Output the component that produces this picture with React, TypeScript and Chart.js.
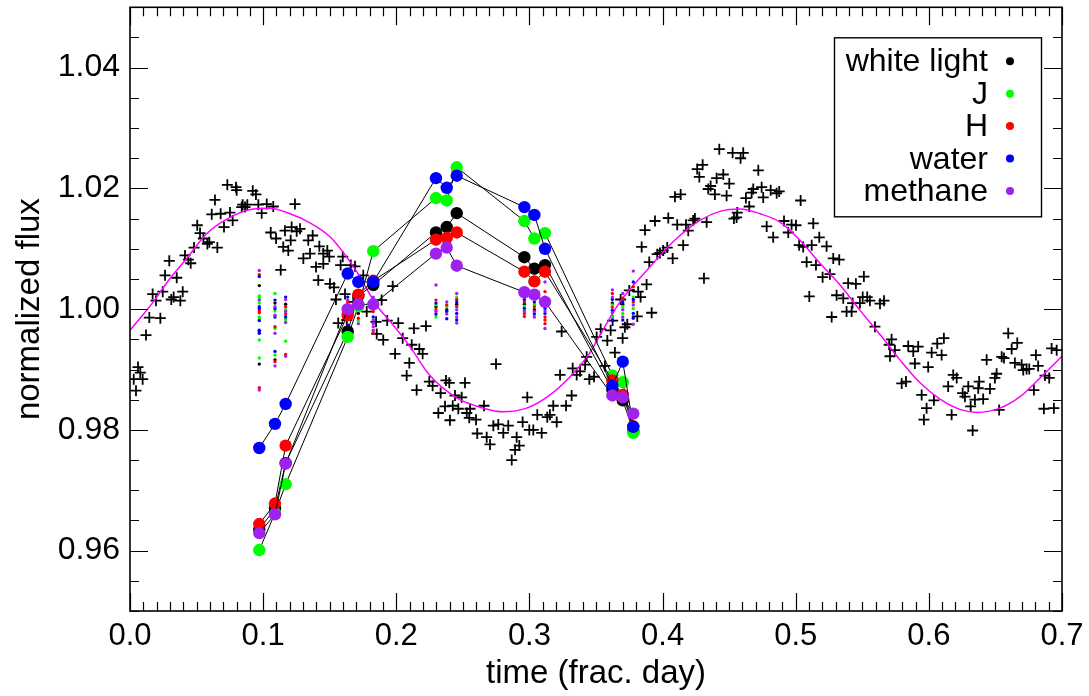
import React, { useEffect, useRef } from "react";
import { Chart, registerables } from "chart.js";

Chart.register(...registerables);

const FONT = "'Liberation Sans', Arial, Helvetica, sans-serif";

// ---------- axes ----------
const xRange = [0, 0.7];
const yRange = [0.95, 1.05];
const xTicks = [0, 0.1, 0.2, 0.3, 0.4, 0.5, 0.6, 0.7];
const xTickLabels = ["0.0", "0.1", "0.2", "0.3", "0.4", "0.5", "0.6", "0.7"];
const yTicks = [0.96, 0.98, 1.0, 1.02, 1.04];
const yTickLabels = ["0.96", "0.98", "1.00", "1.02", "1.04"];
const xMinorStep = 0.01;
const yMinorStep = 0.005;
const xTitle = "time (frac. day)";
const yTitle = "normalized flux";

// ---------- legend / bands ----------
const bandNames = ["white light", "J", "H", "water", "methane"];
const bandColors = ["#000000", "#00ff00", "#ff0000", "#0000ff", "#a020f0"];

// ---------- unbinned white-light photometry (crosses) ----------
const crossTime = [
  0.0028, 0.0045, 0.006, 0.0077, 0.0095, 0.012, 0.0145, 0.017, 0.0195, 0.0228, 0.0246, 0.031, 0.0328, 0.0378, 0.0396,
  0.0263, 0.0351, 0.0295, 0.0413, 0.0438, 0.0456, 0.0481, 0.0505, 0.0526, 0.0551, 0.0581, 0.0596, 0.0656, 0.0614, 0.0638,
  0.0681, 0.0706, 0.0731, 0.0751, 0.0771, 0.0796, 0.0801, 0.0839, 0.0846, 0.0864, 0.0881, 0.0922, 0.0946, 0.0964, 0.0989,
  0.1027, 0.1076, 0.1057, 0.1097, 0.1132, 0.1151, 0.1164, 0.1189, 0.1207, 0.1214, 0.1239, 0.1252, 0.1277, 0.1302, 0.1339,
  0.1352, 0.1372, 0.1397, 0.1414, 0.1422, 0.1452, 0.1482, 0.1497, 0.1452, 0.1598, 0.1582, 0.1658, 0.169, 0.1752, 0.1502,
  0.1532, 0.1547, 0.1615, 0.1677, 0.1564, 0.1628, 0.1778, 0.189, 0.1848, 0.1932, 0.2015, 0.1973, 0.2133, 0.2048, 0.2173,
  0.1853, 0.1902, 0.1991, 0.2098, 0.2078, 0.2153, 0.2223, 0.2116, 0.2198, 0.2248, 0.2273, 0.2333, 0.2373, 0.2398, 0.2516,
  0.2441, 0.2491, 0.2366, 0.2316, 0.2424, 0.2466, 0.2554, 0.2529, 0.2599, 0.2403, 0.2659, 0.2548, 0.2608, 0.2679, 0.2704,
  0.2729, 0.2766, 0.2804, 0.2841, 0.2904, 0.2924, 0.2892, 0.2867, 0.2749, 0.2984, 0.2949, 0.3059, 0.3029, 0.2999, 0.3092,
  0.3134, 0.3154, 0.3179, 0.3205, 0.3275, 0.3317, 0.323, 0.3242, 0.3325, 0.3355, 0.338, 0.3418, 0.345, 0.343, 0.3485,
  0.3505, 0.3535, 0.3567, 0.3585, 0.361, 0.3642, 0.37, 0.3625, 0.3685, 0.3735, 0.3717, 0.375, 0.381, 0.3835, 0.3817,
  0.3918, 0.388, 0.39, 0.3843, 0.398, 0.396, 0.4005, 0.4035, 0.4076, 0.4155, 0.4043, 0.3943, 0.3868, 0.411, 0.4176,
  0.4193, 0.423, 0.4243, 0.4331, 0.4311, 0.4093, 0.4136, 0.426, 0.4301, 0.4276, 0.4406, 0.4456, 0.4501, 0.4361, 0.4343,
  0.4393, 0.4481, 0.4626, 0.4681, 0.4744, 0.4756, 0.4812, 0.4857, 0.4719, 0.4586, 0.4526, 0.4606, 0.4556, 0.4536, 0.4651,
  0.4782, 0.4831, 0.4426, 0.4669, 0.4876, 0.4561, 0.5037, 0.5132, 0.4912, 0.4969, 0.5002, 0.4944, 0.5026, 0.5056, 0.512,
  0.5177, 0.5232, 0.5082, 0.5152, 0.5202, 0.5257, 0.5282, 0.5327, 0.5102, 0.527, 0.5307, 0.5357, 0.5394, 0.5452, 0.5512,
  0.5382, 0.542, 0.5427, 0.5482, 0.5503, 0.5537, 0.5557, 0.5633, 0.5663, 0.5595, 0.572, 0.5702, 0.5745, 0.5708, 0.5845,
  0.5883, 0.592, 0.5895, 0.5995, 0.6021, 0.6063, 0.6113, 0.6096, 0.5796, 0.5828, 0.5946, 0.5983, 0.5963, 0.6038, 0.6145,
  0.6183, 0.6209, 0.6171, 0.6254, 0.6271, 0.6296, 0.6329, 0.6314, 0.6346, 0.6378, 0.6371, 0.6408, 0.6434, 0.6459, 0.6496,
  0.6509, 0.6528, 0.6547, 0.6564, 0.6596, 0.6622, 0.6664, 0.6646, 0.6697, 0.6709, 0.6734, 0.6754, 0.6804, 0.6821, 0.6789,
  0.6872, 0.6904, 0.6922, 0.696, 0.6864, 0.6939,
];
const crossFlux = [
  0.9884, 0.9865, 0.9904, 0.9895, 0.9884, 0.9957, 0.9986, 1.0025, 1.0014, 0.9985, 1.0029, 1.0016, 1.002, 1.0014, 1.0029,
  1.0056, 1.0052, 1.008, 1.0089, 1.0082, 1.0076, 1.0102, 1.0139, 1.0126, 1.0117, 1.0108, 1.0111, 1.0102, 1.0157, 1.0181,
  1.0158, 1.0136, 1.0206, 1.016, 1.0147, 1.0202, 1.0197, 1.0169, 1.0173, 1.0169, 1.0173, 1.0196, 1.019, 1.0173, 1.0159,
  1.0174, 1.017, 1.0127, 1.0117, 1.0065, 1.0103, 1.013, 1.0097, 1.0114, 1.0136, 1.0174, 1.0129, 1.0133, 1.0084, 1.0114,
  1.0092, 1.0122, 1.007, 1.0048, 1.0104, 1.0092, 1.0097, 1.0087, 1.0075, 1.0087, 1.0073, 1.0073, 1.0071, 1.0056, 1.0042,
  1.0036, 1.0016, 1.0025, 1.0012, 0.9977, 0.9982, 0.9996, 1.0015, 0.9979, 0.9981, 0.9977, 1.0038, 0.9968, 0.9952, 0.9934,
  0.9959, 0.9949, 0.9926, 0.9911, 0.989, 0.9866, 0.9972, 0.9941, 0.9926, 0.988, 0.9873, 0.9861, 0.9882, 0.9878, 0.9878,
  0.9857, 0.9854, 0.9839, 0.9828, 0.984, 0.9835, 0.9835, 0.9828, 0.9817, 0.9816, 0.984, 0.982, 0.9794, 0.9788, 0.9776,
  0.9807, 0.9809, 0.9795, 0.9807, 0.9788, 0.9774, 0.9767, 0.975, 0.9909, 0.9854, 0.9813, 0.9825, 0.98, 0.98, 0.9795,
  0.9821, 0.9825, 0.984, 0.9813, 0.984, 0.9857, 0.9891, 0.9963, 0.9902, 0.9891, 0.9897, 0.9908, 0.9884, 0.9921, 0.9888,
  0.9954, 0.9967, 0.9906, 0.9948, 0.9965, 0.9928, 0.9952, 0.9981, 1.0016, 0.9975, 0.997, 1.0031, 0.9988, 1.002, 1.0029,
  0.9994, 1.0041, 1.0078, 1.0103, 1.0093, 1.0091, 1.0097, 1.0102, 1.0084, 1.0106, 1.0151, 1.0146, 1.0131, 1.014, 1.014,
  1.013, 1.0147, 1.015, 1.0144, 1.0051, 1.0186, 1.019, 1.0232, 1.0239, 1.0219, 1.0217, 1.0223, 1.0208, 1.0204, 1.0199,
  1.019, 1.0188, 1.0184, 1.0199, 1.0202, 1.0185, 1.0197, 1.0192, 1.023, 1.025, 1.0259, 1.0259, 1.0152, 1.015, 1.017,
  1.0137, 1.0119, 1.0265, 1.0193, 1.0195, 1.016, 1.018, 1.0142, 1.0146, 1.014, 1.0139, 1.0127, 1.0106, 1.0103, 1.0106,
  1.0119, 1.0104, 1.0078, 1.0073, 1.0053, 1.0058, 1.0084, 1.0082, 1.0021, 0.9987, 1.0023, 1.0018, 1.0043, 1.0042, 1.0054,
  0.9996, 0.9996, 1.001, 1.001, 1.002, 1.002, 1.0014, 1.0009, 1.0014, 0.9971, 0.995, 0.9941, 0.9932, 0.9922, 0.9939,
  0.993, 0.9938, 0.991, 0.9904, 0.9928, 0.9943, 0.9952, 0.9924, 0.9877, 0.988, 0.9858, 0.9836, 0.9817, 0.9849, 0.9872,
  0.9891, 0.9886, 0.9825, 0.9861, 0.9855, 0.9872, 0.9799, 0.9839, 0.985, 0.988, 0.9869, 0.9851, 0.9916, 0.9868, 0.9886,
  0.9893, 0.9833, 0.9921, 0.9919, 0.996, 0.9934, 0.9944, 0.9911, 0.9908, 0.9899, 0.9901, 0.9901, 0.9924, 0.9906, 0.9866,
  0.989, 0.9886, 0.9935, 0.9932, 0.9835, 0.9836,
];

// ---------- sinusoidal model (magenta) ----------
const modelTime = [
  0.0, 0.0175, 0.029, 0.0426, 0.0576, 0.0751, 0.0926, 0.1052, 0.1202, 0.1352, 0.1502, 0.1602, 0.1703, 0.1853, 0.1953,
  0.2103, 0.2253, 0.2454, 0.2654, 0.2804, 0.2979, 0.3155, 0.3305, 0.3455, 0.353, 0.368, 0.3881, 0.4081, 0.4281, 0.4431,
  0.4582, 0.4732, 0.4882, 0.5032, 0.5182, 0.5333, 0.5483, 0.5633, 0.5783, 0.5934, 0.6084, 0.6234, 0.6359, 0.6534, 0.6685,
  0.6835, 0.7,
];
const modelFlux = [
  0.9965, 1.0012, 1.0048, 1.0084, 1.0125, 1.0152, 1.0166, 1.0167, 1.0158, 1.0143, 1.012, 1.0094, 1.0062, 1.0006, 0.998,
  0.9938, 0.989, 0.9853, 0.9836, 0.983, 0.9836, 0.9858, 0.9888, 0.9928, 0.9957, 1.0012, 1.0064, 1.0112, 1.0147, 1.0162,
  1.0166, 1.0158, 1.0144, 1.0114, 1.0076, 1.004, 0.9998, 0.9958, 0.9916, 0.9878, 0.9851, 0.9834, 0.9829, 0.9836, 0.9855,
  0.9886, 0.9922,
];

// ---------- binned light curves (big circles) ----------
const binTimes = [
  0.0971, 0.1089, 0.1169, 0.1635, 0.1715, 0.1827, 0.2298, 0.2379, 0.2454, 0.2962, 0.3037, 0.3117, 0.3623, 0.3701, 0.378,
];
const binWhite = [0.9635, 0.967, 0.9745, 0.9963, 1.0022, 1.004, 1.0127, 1.0136, 1.0159, 1.0086, 1.0067, 1.0073, 0.9866, 0.9849, 0.9798];
const binJ = [0.9601, 0.9662, 0.971, 0.9954, 1.0005, 1.0096, 1.0184, 1.018, 1.0235, 1.0146, 1.0117, 1.0126, 0.989, 0.9879, 0.9795];
const binH = [0.9644, 0.9678, 0.9774, 0.999, 1.0024, 1.0047, 1.0115, 1.0118, 1.0127, 1.0062, 1.0046, 1.0062, 0.9882, 0.9858, 0.9806];
const binWater = [0.977, 0.981, 0.9843, 1.0059, 1.0045, 1.0045, 1.0217, 1.0201, 1.0221, 1.0169, 1.0156, 1.01, 0.9873, 0.9913, 0.9805];
const binMethane = [0.9629, 0.966, 0.9744, 1.0, 1.0008, 1.0008, 1.0092, 1.0102, 1.0072, 1.0028, 1.0024, 1.0012, 0.9857, 0.9854, 0.9827];

// ---------- individual frames (small dots) [time, flux] ----------
const framesWhite = [
  [0.0971, 1.0039], [0.0971, 0.9909], [0.1089, 1.001], [0.1089, 0.9916], [0.1169, 1.0008], [0.1635, 1.0007],
  [0.1715, 0.9993], [0.1827, 1.0015], [0.2298, 1.0004], [0.2379, 0.9999], [0.2454, 1.0008], [0.2962, 1.0008],
  [0.3037, 0.9999], [0.3117, 1.0007], [0.3623, 1.001], [0.3701, 1.0008], [0.378, 1.0031],
];
const framesJ = [
  [0.0971, 1.0022], [0.0971, 1.0019], [0.0971, 1.001], [0.0971, 0.9987], [0.0971, 0.9984], [0.0971, 0.9949],
  [0.0971, 0.9919], [0.1089, 1.0026], [0.1089, 0.9997], [0.1089, 0.9968], [0.1089, 0.9924], [0.1169, 0.9999],
  [0.1169, 0.9983], [0.1169, 0.9947], [0.1635, 0.9993], [0.1715, 1.0012], [0.1715, 0.9981], [0.1827, 1.0001],
  [0.2298, 1.0007], [0.2298, 0.9987], [0.2379, 1.0004], [0.2454, 1.002], [0.2962, 1.0005], [0.3037, 1.0008],
  [0.3117, 1.0016], [0.3623, 1.0007], [0.3623, 0.9987], [0.3701, 1.0004], [0.3701, 0.9993], [0.378, 1.002], [0.378, 1.0001],
];
const framesH = [
  [0.0971, 1.0057], [0.0971, 0.9997], [0.0971, 0.9994], [0.0971, 0.987], [0.1089, 0.9971], [0.1089, 0.9913],
  [0.1169, 1.0004], [0.1169, 0.9992], [0.1169, 0.9925], [0.1635, 1.0012], [0.1635, 0.9965], [0.1635, 0.9957],
  [0.1715, 0.9985], [0.1827, 0.9996], [0.1827, 0.9961], [0.2298, 1.0015], [0.2298, 0.9999], [0.2379, 1.0007],
  [0.2454, 1.0016], [0.2454, 1.0004], [0.2962, 1.0012], [0.2962, 0.9993], [0.2962, 0.9988], [0.3037, 1.0004],
  [0.3117, 1.0029], [0.3117, 1.0012], [0.3117, 0.9987], [0.3117, 0.9982], [0.3117, 0.9976], [0.3623, 1.0026],
  [0.3623, 1.0003], [0.3701, 1.0018], [0.378, 1.0037], [0.378, 1.0012],
];
const framesWater = [
  [0.0971, 1.0054], [0.0971, 1.0004], [0.0971, 1.0001], [0.0971, 0.9981], [0.0971, 0.9965], [0.0971, 0.9963],
  [0.0971, 0.996], [0.1089, 1.0015], [0.1089, 1.0001], [0.1089, 0.9987], [0.1089, 0.993], [0.1169, 1.002],
  [0.1169, 0.9987], [0.1635, 1.002], [0.1635, 0.9998], [0.1635, 0.9974], [0.1715, 1.0018], [0.1715, 1.0001],
  [0.1827, 1.0009], [0.1827, 0.9987], [0.2298, 1.001], [0.2298, 0.9992], [0.2379, 0.9996], [0.2379, 0.9984],
  [0.2454, 1.0012], [0.2454, 0.9993], [0.2454, 0.9982], [0.2962, 1.0016], [0.2962, 1.0001], [0.3037, 1.0012],
  [0.3037, 0.9992], [0.3117, 1.002], [0.3117, 1.0001], [0.3117, 0.9993], [0.3623, 1.0016], [0.3623, 0.9998],
  [0.3623, 0.9982], [0.3701, 1.0012], [0.3701, 0.9982], [0.378, 1.0045], [0.378, 1.0016], [0.378, 0.9993], [0.378, 0.9985],
];
const framesMethane = [
  [0.0971, 1.0064], [0.0971, 1.0015], [0.0971, 0.9866], [0.1089, 1.0004], [0.1089, 0.999], [0.1089, 0.996],
  [0.1089, 0.9906], [0.1169, 1.0016], [0.1169, 0.9996], [0.1169, 0.9978], [0.1169, 0.9922], [0.1635, 1.0015],
  [0.1715, 1.0007], [0.1715, 0.9976], [0.1827, 1.002], [0.1827, 0.9982], [0.1827, 0.9976], [0.1827, 0.9971],
  [0.1827, 0.9965], [0.2298, 1.004], [0.2298, 0.9996], [0.2379, 1.0012], [0.2379, 0.9992], [0.2454, 1.0026],
  [0.2454, 0.9999], [0.2454, 0.9987], [0.2454, 0.9977], [0.2962, 1.002], [0.2962, 0.9997], [0.3037, 0.9996],
  [0.3037, 0.9987], [0.3117, 1.0045], [0.3117, 0.9997], [0.3117, 0.9968], [0.3623, 1.0032], [0.3623, 1.002],
  [0.3623, 0.9994], [0.3701, 1.0026], [0.3701, 0.9999], [0.3701, 0.9987], [0.378, 1.0063], [0.378, 1.0007], [0.378, 0.9975],
];

const binSeries = [binWhite, binJ, binH, binWater, binMethane];
const frameSeries = [framesWhite, framesJ, framesH, framesWater, framesMethane];

const MAJOR_TICK = 18;
const MINOR_TICK = 9;

const axisBoxPlugin = {
  id: "axisBox",
  afterDraw(chart: any) {
    const { ctx, chartArea, scales } = chart;
    const { left, right, top, bottom } = chartArea;
    const xs = scales.x;
    const ys = scales.y;
    ctx.save();
    ctx.strokeStyle = "#000";
    ctx.lineWidth = 1.2;
    ctx.beginPath();
    const nX = Math.round((xRange[1] - xRange[0]) / xMinorStep);
    for (let i = 0; i <= nX; i++) {
      const v = xRange[0] + i * xMinorStep;
      const major = xTicks.some((t) => Math.abs(t - v) < 1e-6);
      const len = major ? MAJOR_TICK : MINOR_TICK;
      const px = Math.round(xs.getPixelForValue(v)) + 0.5;
      ctx.moveTo(px, bottom);
      ctx.lineTo(px, bottom - len);
      ctx.moveTo(px, top);
      ctx.lineTo(px, top + len);
    }
    const nY = Math.round((yRange[1] - yRange[0]) / yMinorStep);
    for (let i = 0; i <= nY; i++) {
      const v = yRange[0] + i * yMinorStep;
      const major = yTicks.some((t) => Math.abs(t - v) < 1e-6);
      const len = major ? MAJOR_TICK : MINOR_TICK;
      const py = Math.round(ys.getPixelForValue(v)) + 0.5;
      ctx.moveTo(left, py);
      ctx.lineTo(left + len, py);
      ctx.moveTo(right, py);
      ctx.lineTo(right - len, py);
    }
    ctx.stroke();
    ctx.lineWidth = 1.6;
    ctx.strokeRect(left, top, right - left, bottom - top);

    // legend
    const boxL = right - 228;
    const boxR = right - 21;
    const boxT = top + 30;
    const boxB = top + 209;
    ctx.lineWidth = 1.4;
    ctx.strokeRect(boxL + 0.5, boxT + 0.5, boxR - boxL, boxB - boxT);
    ctx.font = `32px ${FONT}`;
    ctx.textAlign = "right";
    ctx.textBaseline = "alphabetic";
    bandNames.forEach((name, i) => {
      const base = top + 64 + i * 32.4;
      ctx.fillStyle = "#000";
      ctx.fillText(name, right - 74, base);
      ctx.fillStyle = bandColors[i];
      ctx.beginPath();
      ctx.arc(right - 52, base - 10, 4, 0, Math.PI * 2);
      ctx.fill();
    });
    ctx.restore();
  },
};

export default function App() {
  const canvasRef = useRef<HTMLCanvasElement | null>(null);

  useEffect(() => {
    const canvas = canvasRef.current;
    if (!canvas) return;

    const datasets: any[] = [];
    datasets.push({
      label: "photometry",
      data: crossTime.map((t, i) => ({ x: t, y: crossFlux[i] })),
      showLine: false,
      pointStyle: "cross",
      pointRadius: 5.5,
      borderColor: "#000",
      borderWidth: 1.8,
      order: 30,
    });
    datasets.push({
      label: "model",
      data: modelTime.map((t, i) => ({ x: t, y: modelFlux[i] })),
      showLine: true,
      borderColor: "#ff00ff",
      borderWidth: 1.5,
      pointRadius: 0,
      cubicInterpolationMode: "monotone",
      fill: false,
      order: 29,
    });
    frameSeries.forEach((arr, i) => {
      datasets.push({
        label: bandNames[i] + " frames",
        data: arr.map((p) => ({ x: p[0], y: p[1] })),
        showLine: false,
        pointStyle: "circle",
        pointRadius: 1.7,
        backgroundColor: bandColors[i],
        borderWidth: 0,
        order: 20 - i,
      });
    });
    binSeries.forEach((arr, i) => {
      datasets.push({
        label: bandNames[i],
        data: binTimes.map((t, j) => ({ x: t, y: arr[j] })),
        showLine: true,
        borderColor: "#000",
        borderWidth: 1,
        pointStyle: "circle",
        pointRadius: 6.2,
        pointBackgroundColor: bandColors[i],
        pointBorderColor: bandColors[i],
        pointBorderWidth: 0,
        tension: 0,
        fill: false,
        order: 5 - i,
      });
    });

    const chart = new Chart(canvas, {
      type: "scatter",
      data: { datasets },
      options: {
        animation: false,
        responsive: false,
        devicePixelRatio: 1,
        events: [],
        layout: { padding: { left: 0, right: 27, top: 7, bottom: 0 } },
        plugins: {
          legend: { display: false },
          tooltip: { enabled: false },
        },
        scales: {
          x: {
            type: "linear",
            min: xRange[0],
            max: xRange[1],
            afterBuildTicks: (s: any) => {
              s.ticks = xTicks.map((v) => ({ value: v }));
            },
            afterFit: (s: any) => {
              s.height = 85;
              s.paddingLeft = 0;
              s.paddingRight = 0;
              s.paddingTop = 0;
              s.paddingBottom = 0;
            },
            grid: { display: false, drawTicks: false },
            border: { display: false },
            ticks: {
              autoSkip: false,
              maxRotation: 0,
              padding: 7,
              color: "#000",
              font: { family: FONT, size: 31 },
              callback: (v: any) => {
                const k = xTicks.findIndex((t) => Math.abs(t - Number(v)) < 1e-9);
                return k >= 0 ? xTickLabels[k] : "";
              },
            },
            title: {
              display: true,
              text: xTitle,
              color: "#000",
              font: { family: FONT, size: 33 },
              padding: { top: 0, bottom: 2 },
            },
          },
          y: {
            type: "linear",
            min: yRange[0],
            max: yRange[1],
            afterBuildTicks: (s: any) => {
              s.ticks = yTicks.map((v) => ({ value: v }));
            },
            afterFit: (s: any) => {
              s.width = 130;
              s.paddingLeft = 0;
              s.paddingRight = 0;
              s.paddingTop = 0;
              s.paddingBottom = 0;
            },
            grid: { display: false, drawTicks: false },
            border: { display: false },
            ticks: {
              autoSkip: false,
              padding: 10,
              color: "#000",
              font: { family: FONT, size: 32 },
              callback: (v: any) => {
                const k = yTicks.findIndex((t) => Math.abs(t - Number(v)) < 1e-9);
                return k >= 0 ? yTickLabels[k] : "";
              },
            },
            title: {
              display: true,
              text: yTitle,
              color: "#000",
              font: { family: FONT, size: 33 },
              padding: { top: 10, bottom: 0 },
            },
          },
        },
      },
      plugins: [axisBoxPlugin],
    });

    return () => {
      chart.destroy();
    };
  }, []);

  return (
    <div style={{ position: "fixed", left: 0, top: 0, width: 1089, height: 696, background: "#fff" }}>
      <canvas ref={canvasRef} width={1089} height={696} style={{ display: "block" }} />
    </div>
  );
}
